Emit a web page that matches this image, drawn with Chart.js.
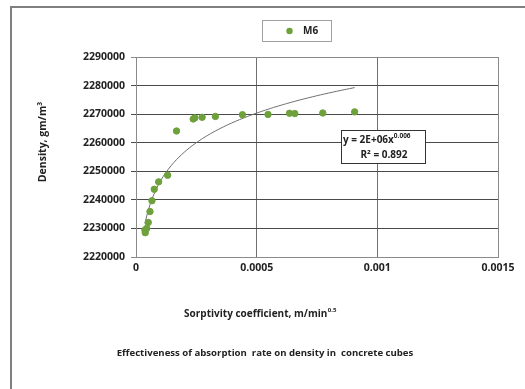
<!DOCTYPE html>
<html>
<head>
<meta charset="utf-8">
<script src="https://cdn.jsdelivr.net/npm/chart.js@4"></script>
<style>
html,body{margin:0;padding:0;background:#fff;}
#wrap{width:525px;height:389px;position:relative;}
</style>
</head>
<body>
<div id="wrap"><canvas id="c" width="525" height="389"></canvas></div>
<script>
// Data
const seriesName = "M6";
const sorptivity = [0.0000370, 0.0000384, 0.0000442, 0.0000508, 0.0000579, 0.0000661, 0.0000756, 0.0000938, 0.000131,
  0.000168, 0.000237, 0.000244, 0.000274, 0.000329, 0.000441, 0.000547, 0.000636, 0.000658, 0.000774, 0.000906];
const density = [2229400, 2228500, 2230000, 2232100, 2235900, 2239700, 2243700, 2246300, 2248600,
  2264100, 2268300, 2268700, 2268900, 2269200, 2269800, 2269900, 2270300, 2270200, 2270400, 2270800];
const xTicks = [0, 0.0005, 0.001, 0.0015];
const yTickLabels = [2220000, 2230000, 2240000, 2250000, 2260000, 2270000, 2280000, 2290000];
const equationText = ["y = 2E+06x", "0.006"];
const r2Text = "R² = 0.892";
const xTitle = "Sorptivity coefficient, m/min";
const xTitleSup = "0.5";
const yTitle = "Density, gm/m³";
const caption = "Effectiveness of absorption  rate on density in  concrete cubes";

// Power trendline (least squares on ln-ln, as a spreadsheet power trendline)
const lx = sorptivity.map(Math.log), ly = density.map(Math.log);
const n = lx.length;
const mx = lx.reduce((a,b)=>a+b,0)/n, my = ly.reduce((a,b)=>a+b,0)/n;
let sxy=0, sxx=0;
for (let i=0;i<n;i++){ sxy+=(lx[i]-mx)*(ly[i]-my); sxx+=(lx[i]-mx)**2; }
const bExp = sxy/sxx, aCoef = Math.exp(my - bExp*mx);
const xmin = Math.min(...sorptivity), xmax = Math.max(...sorptivity);
const trend = [];
for (let i=0;i<=80;i++){ const x = xmin + (xmax-xmin)*i/80; trend.push({x:x, y:aCoef*Math.pow(x,bExp)}); }

const FONT = "'Open Sans', 'Liberation Sans', sans-serif";
const green = '#6ea13c';

const decor = {
  id:'decor',
  afterDraw(chart){
    const ctx = chart.ctx;
    ctx.save();
    // outer frame
    ctx.strokeStyle = '#7f7f7f'; ctx.lineWidth = 2;
    ctx.beginPath(); ctx.moveTo(11,389); ctx.lineTo(11,7); ctx.lineTo(525,7); ctx.stroke();
    // legend box
    ctx.fillStyle='#fff'; ctx.strokeStyle='#a0a0a0'; ctx.lineWidth=1;
    ctx.fillRect(262.5,20.5,69,21); ctx.strokeRect(262.5,20.5,69,21);
    ctx.fillStyle=green; ctx.beginPath(); ctx.arc(289.5,31,3.2,0,Math.PI*2); ctx.fill();
    ctx.fillStyle='#222'; ctx.font = "bold 10px " + FONT; ctx.textBaseline='middle'; ctx.textAlign='left';
    ctx.fillText(seriesName, 303, 31.5);
    // equation box
    ctx.fillStyle='#fff'; ctx.fillRect(341.5,130.5,84,33);
    ctx.strokeStyle='#333'; ctx.strokeRect(341.5,130.5,84,33);
    ctx.fillStyle='#222'; ctx.font = "bold 10px " + FONT;
    ctx.textAlign='left';
    ctx.fillText(equationText[0], 343, 140);
    const w = ctx.measureText(equationText[0]).width;
    ctx.font = "bold 6.5px " + FONT; ctx.fillText(equationText[1], 343+w, 136);
    ctx.font = "bold 10px " + FONT; ctx.textAlign='center';
    ctx.fillText(r2Text, 384, 155);
    // x title
    ctx.font = "bold 10px " + FONT; ctx.textAlign='left';
    const tw = ctx.measureText(xTitle).width;
    ctx.font = "bold 6px " + FONT; const sw = ctx.measureText(xTitleSup).width;
    const x0 = 260 - (tw+sw)/2;
    ctx.font = "bold 10px " + FONT; ctx.fillText(xTitle, x0, 314);
    ctx.font = "bold 6px " + FONT; ctx.fillText(xTitleSup, x0+tw+0.5, 310.5);
    // caption
    ctx.font = "bold 9.6px " + FONT; ctx.textAlign='center';
    ctx.fillText(caption, 265, 353);
    // y title
    ctx.translate(43,142); ctx.rotate(-Math.PI/2);
    ctx.font = "bold 10.5px " + FONT; ctx.fillText(yTitle, 0, 0);
    ctx.restore();
  }
};

new Chart(document.getElementById('c'), {
  type:'scatter',
  data:{
    datasets:[
      {label:seriesName, data:sorptivity.map((x,i)=>({x:x,y:density[i]})), backgroundColor:green, borderColor:green,
       pointRadius:3.2, pointHoverRadius:3.2, order:1},
      {label:'trend', data:trend, showLine:true, borderColor:'#6e6e6e', borderWidth:1, pointRadius:0, fill:false, order:2}
    ]
  },
  options:{
    responsive:false, animation:false, devicePixelRatio:1,
    layout:{padding:{left:0, top:57, right:27, bottom:92}},
    plugins:{legend:{display:false}, tooltip:{enabled:false}},
    scales:{
      x:{type:'linear', min:0, max:0.0015,
        afterBuildTicks(s){ s.ticks = xTicks.map(v=>({value:v})); },
        afterFit(s){ s.height = 40; },
        ticks:{font:{family:FONT, size:10.5, weight:'bold'}, color:'#222', padding:5, maxRotation:0,
          callback:(v)=>String(v)},
        grid:{color:(c)=> (c.tick && (c.tick.value===0 || c.tick.value===0.0015)) ? '#8a8a8a' : '#707070', lineWidth:1, tickLength:0, drawTicks:false},
        border:{color:'#8a8a8a'}
      },
      y:{type:'linear', min:2220000, max:2290000,
        afterBuildTicks(s){ s.ticks = yTickLabels.map(v=>({value:v})); },
        afterFit(s){ s.width = 136; },
        ticks:{font:{family:FONT, size:10.5, weight:'bold'}, color:'#222', padding:6, callback:(v)=>String(v)},
        grid:{color:(c)=> (c.tick && (c.tick.value===2220000 || c.tick.value===2290000)) ? '#8a8a8a' : '#4a4a4a', lineWidth:1, tickLength:5},
        border:{color:'#8a8a8a'}
      }
    }
  },
  plugins:[decor]
});
</script>
</body>
</html>
